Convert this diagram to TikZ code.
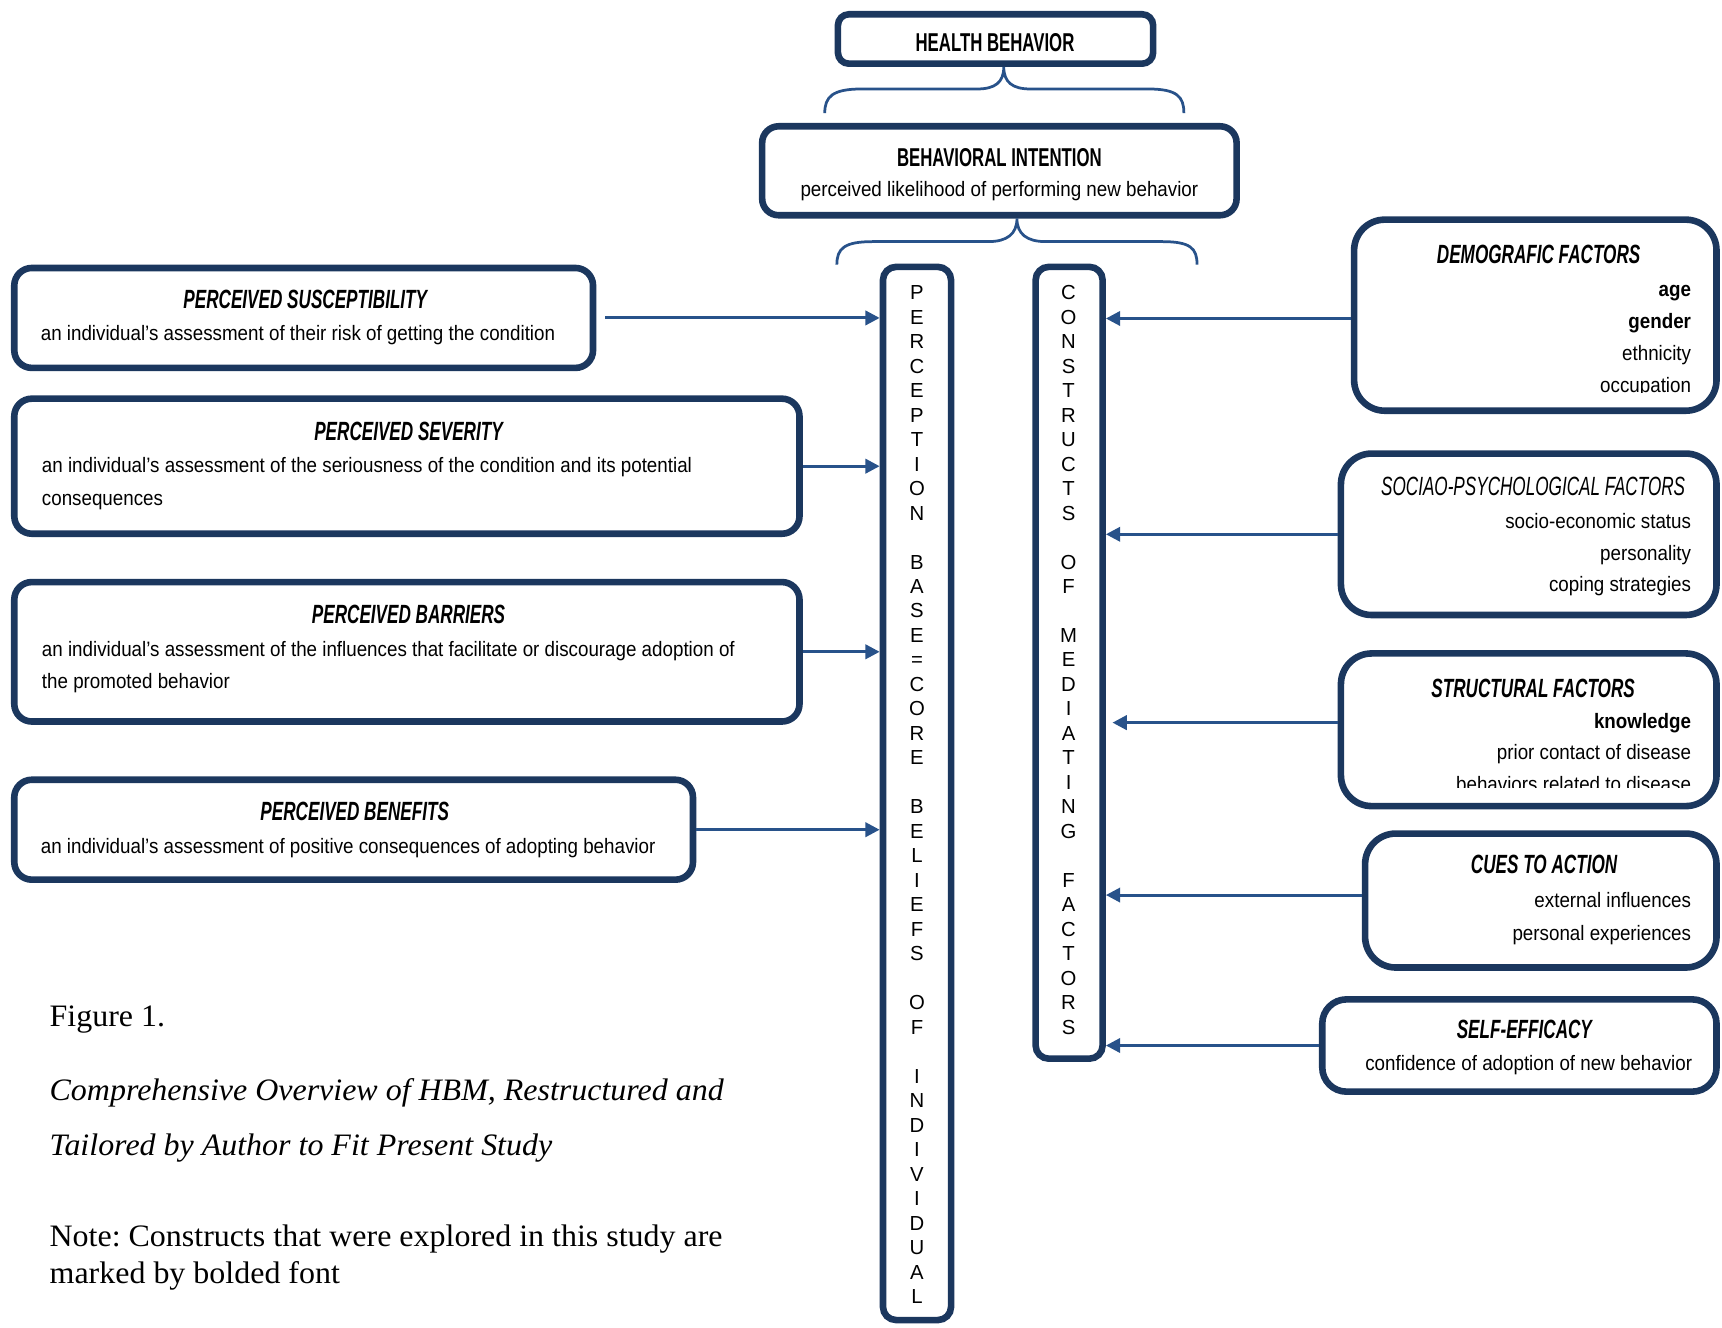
\documentclass[tikz,border=0pt]{standalone}
\usepackage{fontspec}
\setmainfont[FakeStretch=1.025]{Liberation Serif}
\newfontfamily\agency[FakeStretch=0.9]{Liberation Sans}
\newfontfamily\agencyhead[FakeStretch=0.65]{Liberation Sans}
\newfontfamily\arialfont{Liberation Sans}
\usetikzlibrary{arrows.meta,positioning}
\frenchspacing

\definecolor{boxnavy}{RGB}{27,55,94}
\definecolor{linkblue}{RGB}{40,82,138}

\tikzset{
  box/.style={draw=boxnavy, line width=6pt, rounded corners=16pt, inner sep=0pt, fill=white},
  rbox/.style={box, rounded corners=28pt},
  head/.style={font=\agencyhead\fontsize{24}{28}\selectfont\bfseries\itshape, anchor=base, inner sep=0pt},
  body/.style={font=\agency\fontsize{19}{29}\selectfont, inner sep=0pt},
  link/.style={draw=linkblue, line width=2.7pt, -{Triangle[length=13pt,width=13pt]}},
  brace/.style={draw=linkblue, line width=2.5pt},
  letters/.style={font=\arialfont\fontsize{18.5}{22.3}\selectfont, inner sep=0pt, anchor=north},
}

\begin{document}
\begin{tikzpicture}[x=1pt,y=-1pt]
    \useasboundingbox (0,0) rectangle (1568,1209);

    % top of the model
    \node[box, rounded corners=10pt, minimum width=287pt, minimum height=45pt] (hb) at (906.5,35.5) {};
    \node[font=\agencyhead\fontsize{23.5}{28}\selectfont\bfseries, anchor=base, inner sep=0pt] (hbtxt) at (906,47) {HEALTH BEHAVIOR};

    \node[box, rounded corners=15pt, minimum width=432pt, minimum height=81pt] (bi) at (910,155.5) {};
    \node[font=\agencyhead\fontsize{23.5}{28}\selectfont\bfseries, anchor=base, inner sep=0pt] (bitxt) at (910,152) {BEHAVIORAL INTENTION};
    \node[body, anchor=base] (bisub) at (910,179) {perceived likelihood of performing new behavior};

    \draw[brace] (751,103) .. controls (751,88) and (758,81) .. (785,81) -- (890,81)
        .. controls (906,81) and (914,75) .. ([xshift=7.5pt]hb.south)
        .. controls (914,75) and (922,81) .. (938,81) -- (1045,81)
        .. controls (1072,81) and (1078,88) .. (1078,103);
    \draw[brace] (762,241) .. controls (762,226) and (769,220) .. (795,220) -- (900,220)
        .. controls (917,220) and (926,213) .. ([xshift=16pt]bi.south)
        .. controls (926,213) and (935,220) .. (952,220) -- (1058,220)
        .. controls (1084,220) and (1090,226) .. (1090,241);

    % the two columns
    \node[box, rounded corners=12pt, minimum width=62pt, minimum height=959pt] (percep) at (835,722.5) {};
    \node[letters] (perceptxt) at (835,257) {\begin{tabular}{@{}c@{}}
        P\\E\\R\\C\\E\\P\\T\\I\\O\\N\\ \\B\\A\\S\\E\\=\\C\\O\\R\\E\\ \\
        B\\E\\L\\I\\E\\F\\S\\ \\O\\F\\ \\I\\N\\D\\I\\V\\I\\D\\U\\A\\L\end{tabular}};

    \node[box, rounded corners=12pt, minimum width=61pt, minimum height=721pt] (constr) at (973.5,603.5) {};
    \node[letters] (constrtxt) at (973,257) {\begin{tabular}{@{}c@{}}
        C\\O\\N\\S\\T\\R\\U\\C\\T\\S\\ \\O\\F\\ \\
        M\\E\\D\\I\\A\\T\\I\\N\\G\\ \\F\\A\\C\\T\\O\\R\\S\end{tabular}};

    % perceptions, left side
    \node[box, minimum width=527pt, minimum height=91pt] (ps) at (276.5,289.5) {};
    \node[head] (pshead) at (278,281) {PERCEIVED SUSCEPTIBILITY};
    \node[body, anchor=base west] (pstxt) at (37,310) {an individual’s assessment of their risk of getting the condition};

    \node[box, minimum width=715pt, minimum height=123pt] (sev) at (370.5,424.5) {};
    \node[head] (sevhead) at (372,401) {PERCEIVED SEVERITY};
    \node[body, anchor=base west] (sevtxta) at (38,430) {an individual’s assessment of the seriousness of the condition and its potential};
    \node[body, anchor=base west] (sevtxtb) at (38,460) {consequences};

    \node[box, minimum width=715pt, minimum height=127pt] (bar) at (370.5,593.5) {};
    \node[head] (barhead) at (372,568) {PERCEIVED BARRIERS};
    \node[body, anchor=base west] (bartxta) at (38,598) {an individual’s assessment of the influences that facilitate or discourage adoption of};
    \node[body, anchor=base west] (bartxtb) at (38,627) {the promoted behavior};

    \node[box, minimum width=618pt, minimum height=91pt] (ben) at (322,755.5) {};
    \node[head] (benhead) at (323,747) {PERCEIVED BENEFITS};
    \node[body, anchor=base west] (bentxt) at (37,777) {an individual’s assessment of positive consequences of adopting behavior};

    % mediating factors, right side
    \node[rbox, minimum width=330pt, minimum height=174pt] (demo) at (1398,287) {};
    \node[head] (demohead) at (1401,240) {DEMOGRAFIC FACTORS};
    \node[body, anchor=base east] (age) at (1540,270) {\bfseries age};
    \node[body, anchor=base east] (gender) at (1540,299) {\bfseries gender};
    \node[body, anchor=base east] (ethn) at (1540,328) {ethnicity};
    \begin{scope}
        \clip (1240,300) rectangle (1560,357.5);
        \node[body, anchor=base east] (occup) at (1540,357) {occupation};
    \end{scope}

    \node[rbox, minimum width=342pt, minimum height=147pt] (socio) at (1392,486.5) {};
    \node[head, font=\agencyhead\fontsize{24}{28}\selectfont\itshape] (sociohead) at (1396,451) {SOCIAO-PSYCHOLOGICAL FACTORS};
    \node[body, anchor=base east] (ses) at (1540,481) {socio-economic status};
    \node[body, anchor=base east] (pers) at (1540,510) {personality};
    \node[body, anchor=base east] (coping) at (1540,539) {coping strategies};

    \node[rbox, minimum width=342pt, minimum height=139pt] (struct) at (1392,664.5) {};
    \node[head] (structhead) at (1396,635) {STRUCTURAL FACTORS};
    \node[body, anchor=base east] (know) at (1540,663) {\bfseries knowledge};
    \node[body, anchor=base east] (prior) at (1540,692) {prior contact of disease};
    \begin{scope}
        \clip (1240,700) rectangle (1560,717);
        \node[body, anchor=base east] (related) at (1540,721) {behaviors related to disease};
    \end{scope}

    \node[rbox, minimum width=320pt, minimum height=122pt] (cues) at (1403,820) {};
    \node[head] (cueshead) at (1406,795) {CUES TO ACTION};
    \node[body, anchor=base east] (extern) at (1540,826) {external influences};
    \node[body, anchor=base east] (persexp) at (1540,856) {personal experiences};

    \node[rbox, rounded corners=22pt, minimum width=359pt, minimum height=84pt] (self) at (1383.5,952) {};
    \node[head] (selfhead) at (1388,946) {SELF-EFFICACY};
    \node[body, anchor=base east] (selftxt) at (1541,975) {confidence of adoption of new behavior};

    % arrows
    \draw[link] ([xshift=8pt]ps.east) -- (ps.east -| percep.west);
    \draw[link] (sev.east) -- (sev.east -| percep.west);
    \draw[link] (bar.east) -- (bar.east -| percep.west);
    \draw[link] (ben.east) -- (ben.east -| percep.west);

    \draw[link] ([yshift=-3pt]demo.west) -- ([yshift=-3pt]demo.west -| constr.east);
    \draw[link] (socio.west) -- (socio.west -| constr.east);
    \draw[link, shorten >=6pt] ([yshift=6.5pt]struct.west) -- ([yshift=6.5pt]struct.west -| constr.east);
    \draw[link] ([yshift=5pt]cues.west) -- ([yshift=5pt]cues.west -| constr.east);
    \draw[link] (self.west) -- (self.west -| constr.east);

    % caption
    \node[anchor=base west, inner sep=0pt, font=\fontsize{28.4}{34}\selectfont] (fig) at (45,935) {Figure 1.};
    \node[anchor=base west, inner sep=0pt, font=\fontsize{28.4}{34}\selectfont\itshape] (figtitlea) at (45,1002) {Comprehensive Overview of HBM, Restructured and};
    \node[anchor=base west, inner sep=0pt, font=\fontsize{28.4}{34}\selectfont\itshape] (figtitleb) at (45,1052) {Tailored by Author to Fit Present Study};
    \node[anchor=base west, inner sep=0pt, font=\fontsize{28.4}{34}\selectfont] (notea) at (45,1135) {Note: Constructs that were explored in this study are};
    \node[anchor=base west, inner sep=0pt, font=\fontsize{28.4}{34}\selectfont] (noteb) at (45,1169) {marked by bolded font};
\end{tikzpicture}
\end{document}
